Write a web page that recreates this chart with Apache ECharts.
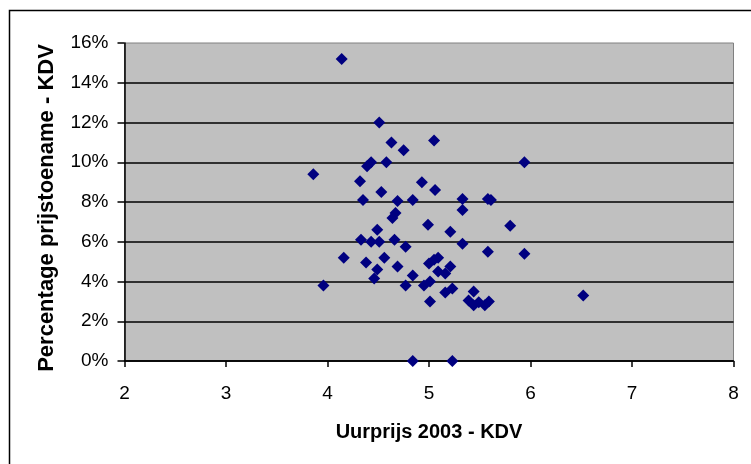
<!DOCTYPE html>
<html lang="nl">
<head>
    <meta charset="UTF-8">
    <script src="https://cdn.jsdelivr.net/npm/echarts@6/dist/echarts.min.js"></script>
    <title>Uurprijs vs prijstoename</title>
    <style>
        body { margin: 0; background: #fff; }
        #main { width: 751px; height: 464px; }
    </style>
</head>
<body>
    <div id="main"></div>
    <script type="text/javascript">
        // uurprijs 2003 (KDV)
        var uurprijs = [
            4.14, 4.51, 4.63, 5.05, 4.75, 4.43, 4.39, 4.58, 5.94, 3.86,
            4.32, 4.93, 5.06, 4.53, 4.35, 4.69, 4.84, 5.33, 5.58, 5.61,
            5.33, 4.67, 4.64, 4.99, 5.80, 4.49, 5.21, 4.33, 4.43, 4.51,
            4.66, 5.33, 4.77, 5.58, 5.94, 4.16, 4.56, 5.09, 5.05, 5.00,
            4.38, 5.21, 4.69, 4.49, 5.09, 5.16, 4.46, 4.84, 3.96, 4.77,
            4.95, 5.01, 5.23, 5.16, 5.44, 6.52, 5.39, 5.49, 5.59, 5.01,
            5.44, 5.55, 4.84, 5.23
        ];
        // percentage prijstoename (KDV)
        var prijstoename = [
            15.2, 12.0, 11.0, 11.1, 10.6, 10.0, 9.8, 10.0, 10.0, 9.4,
            9.05, 9.0, 8.6, 8.5, 8.1, 8.05, 8.1, 8.15, 8.15, 8.1,
            7.6, 7.45, 7.2, 6.85, 6.8, 6.6, 6.5, 6.1, 6.0, 6.0,
            6.1, 5.9, 5.75, 5.5, 5.4, 5.2, 5.2, 5.2, 5.1, 4.9,
            4.95, 4.75, 4.75, 4.6, 4.5, 4.4, 4.15, 4.3, 3.8, 3.8,
            3.8, 4.0, 3.65, 3.45, 3.5, 3.3, 3.05, 2.95, 3.0, 3.0,
            2.8, 2.8, 0, 0
        ];
        var yTicks = [0, 2, 4, 6, 8, 10, 12, 14, 16];
        var xTicks = [2, 3, 4, 5, 6, 7, 8];

        var points = uurprijs.map(function (x, i) { return [x, prijstoename[i]]; });

        var myChart = echarts.init(document.getElementById('main'));
        var font = 'Liberation Sans, Arial, sans-serif';

        var option = {
            backgroundColor: '#fff',
            animation: false,
            graphic: [{
                type: 'rect',
                left: 7, top: 8,
                shape: { width: 770, height: 480 },
                style: { fill: 'none', stroke: '#000', lineWidth: 1.5 },
                z: -1
            }],
            grid: {
                left: 124.5, right: 17.5, top: 43, bottom: 103,
                show: true,
                backgroundColor: '#c0c0c0',
                borderColor: '#808080',
                borderWidth: 1
            },
            xAxis: {
                type: 'value',
                min: xTicks[0], max: xTicks[xTicks.length - 1], interval: 1,
                name: 'Uurprijs 2003 - KDV',
                nameLocation: 'middle',
                nameGap: 61,
                nameTextStyle: { fontFamily: font, fontWeight: 'bold', fontSize: 20, color: '#000' },
                axisLine: { lineStyle: { color: '#000', width: 1.5 } },
                axisTick: { length: 6, lineStyle: { color: '#000', width: 1.5 } },
                axisLabel: { margin: 23, fontFamily: font, fontSize: 19, color: '#000' },
                splitLine: { show: false }
            },
            yAxis: {
                type: 'value',
                min: yTicks[0], max: yTicks[yTicks.length - 1], interval: 2,
                name: 'Percentage prijstoename - KDV',
                nameLocation: 'middle',
                nameGap: 67,
                nameTextStyle: {
                    fontFamily: font, fontWeight: 'bold', fontSize: 22, color: '#000',
                    padding: [0, 12, 0, 0]
                },
                axisLine: { lineStyle: { color: '#000', width: 1.5 } },
                axisTick: { length: 7, lineStyle: { color: '#000', width: 1.5 } },
                axisLabel: {
                    margin: 16, fontFamily: font, fontSize: 19, color: '#000',
                    formatter: function (v) { return v + '%'; }
                },
                splitLine: { show: true, showMaxLine: false, lineStyle: { color: '#000', width: 1.5 } }
            },
            series: [{
                type: 'scatter',
                data: points,
                symbol: 'diamond',
                symbolSize: [12, 12],
                itemStyle: { color: '#000080', opacity: 1 }
            }]
        };

        myChart.setOption(option);
    </script>
</body>
</html>
